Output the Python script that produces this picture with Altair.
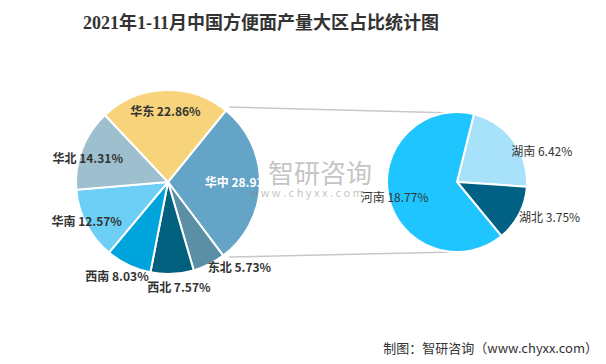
import math
import altair as alt
import pandas as pd

# ---------------- data ----------------
title_text = "2021年1-11月中国方便面产量大区占比统计图"
footer_text = "制图：智研咨询（www.chyxx.com）"
wm_cn = "智研咨询"
wm_en = "w w w . c h y x x . c o m"

left_cats = ["华中", "东北", "西北", "西南", "华南", "华北", "华东"]
left_vals = [28.93, 5.73, 7.57, 8.03, 12.57, 14.31, 22.86]
left_colors = ["#64A4C6", "#5A8FA6", "#02607F", "#00A4DC", "#6DCFF6", "#9EBFCD", "#F7D37C"]

right_cats = ["湖南", "湖北", "河南"]
right_vals = [6.42, 3.75, 18.77]
right_colors = ["#A7E2FA", "#006184", "#1EC5FF"]


def frame(cats, vals):
    return pd.DataFrame({
        "cat": cats,
        "v": vals,
        "i": list(range(len(cats))),
        "label": [f"{c} {v:.2f}%" for c, v in zip(cats, vals)],
    })


df_left = frame(left_cats, left_vals)
df_right = frame(right_cats, right_vals)

FONT = "Noto Sans CJK SC"

# ---------------- layout ----------------
L_CX, L_CY, L_R = 160, 174, 92
R_CX, R_CY, R_R = 449, 174, 70
L_START = math.radians(39)
R_START = math.radians(14)


def pie(df, cats, colors, cx, cy, r, start, weight, label_specs):
    tscale = alt.Scale(range=[start, start + 2 * math.pi])
    base = alt.Chart(df)
    arc = base.mark_arc(outerRadius=r, stroke="white", strokeWidth=2).encode(
        theta=alt.Theta("v:Q", stack=True, scale=tscale),
        order=alt.Order("i:Q"),
        color=alt.Color("cat:N", scale=alt.Scale(domain=cats, range=colors), legend=None),
        x=alt.value(cx),
        y=alt.value(cy),
    )
    lab_base = base.transform_window(
        cum="sum(v)", sort=[alt.SortField("i")]
    ).transform_calculate(mid="datum.cum - datum.v / 2")
    layers = [arc]
    for members, rad, align, dx, dy, col in label_specs:
        t = lab_base.transform_filter(
            alt.FieldOneOfPredicate(field="cat", oneOf=members)
        ).mark_text(
            radius=rad, align=align, baseline="middle", fontSize=12,
            fontWeight=weight, font=FONT, dx=dx, dy=dy, color=col,
        ).encode(
            theta=alt.Theta("mid:Q", stack=False, scale=tscale),
            text="label:N",
            x=alt.value(cx),
            y=alt.value(cy),
        )
        layers.append(t)
    return alt.layer(*layers)


DARK = "#333333"

left = pie(df_left, left_cats, left_colors, L_CX, L_CY, L_R, L_START, "bold", [
    (["华东"], 70, "center", 0, 0, DARK),
    (["华中"], 72, "center", 0, 0, "white"),
    (["华北"], 86, "center", 0, 8, DARK),
    (["华南"], 86, "center", -5, 0, DARK),
    (["西北"], 107, "center", 6, -1, DARK),
    (["西南"], 107, "center", -5, -2, DARK),
    (["东北"], 100, "left", -5, -3, DARK),
])

right = pie(df_right, right_cats, right_colors, R_CX, R_CY, R_R, R_START, "normal", [
    (["河南"], 64, "center", 0, 2, DARK),
    (["湖南"], 72, "left", -4, 12, DARK),
    (["湖北"], 72, "left", -2, 3, DARK),
])

one = pd.DataFrame({"a": [0]})

lines = alt.layer(
    alt.Chart(one).mark_rule(color="#C8C8C8", strokeWidth=1.5).encode(
        x=alt.value(221), y=alt.value(99), x2=alt.value(447), y2=alt.value(105)),
    alt.Chart(one).mark_rule(color="#C8C8C8", strokeWidth=1.5).encode(
        x=alt.value(221), y=alt.value(249), x2=alt.value(447), y2=alt.value(244)),
)

title = alt.Chart(pd.DataFrame({"t": [title_text]})).mark_text(
    fontSize=18, fontWeight="bold", font="Liberation Serif, " + FONT,
    color="#333333", align="center", baseline="middle",
).encode(text="t:N", x=alt.value(253), y=alt.value(16))

footer = alt.Chart(pd.DataFrame({"t": [footer_text]})).mark_text(
    fontSize=13, font=FONT, color="#333333", align="right", baseline="middle",
).encode(text="t:N", x=alt.value(590), y=alt.value(341))

wm1 = alt.Chart(pd.DataFrame({"t": [wm_cn]})).mark_text(
    fontSize=26, font=FONT, color="#808080", opacity=0.45,
    align="center", baseline="middle",
).encode(text="t:N", x=alt.value(312), y=alt.value(167))

wm2 = alt.Chart(pd.DataFrame({"t": [wm_en]})).mark_text(
    fontSize=11, font=FONT, color="#808080", opacity=0.45,
    align="center", baseline="middle",
).encode(text="t:N", x=alt.value(298), y=alt.value(186))

chart = alt.layer(lines, left, right, wm1, wm2, title, footer).resolve_scale(
    theta="independent", color="independent"
).properties(
    width=590, height=348,
    autosize=alt.AutoSizeParams(type="none"),
    padding=0,
    background="white",
).configure_view(stroke=None)

chart.save("out.html", embed_options={"renderer": "svg", "actions": False})
